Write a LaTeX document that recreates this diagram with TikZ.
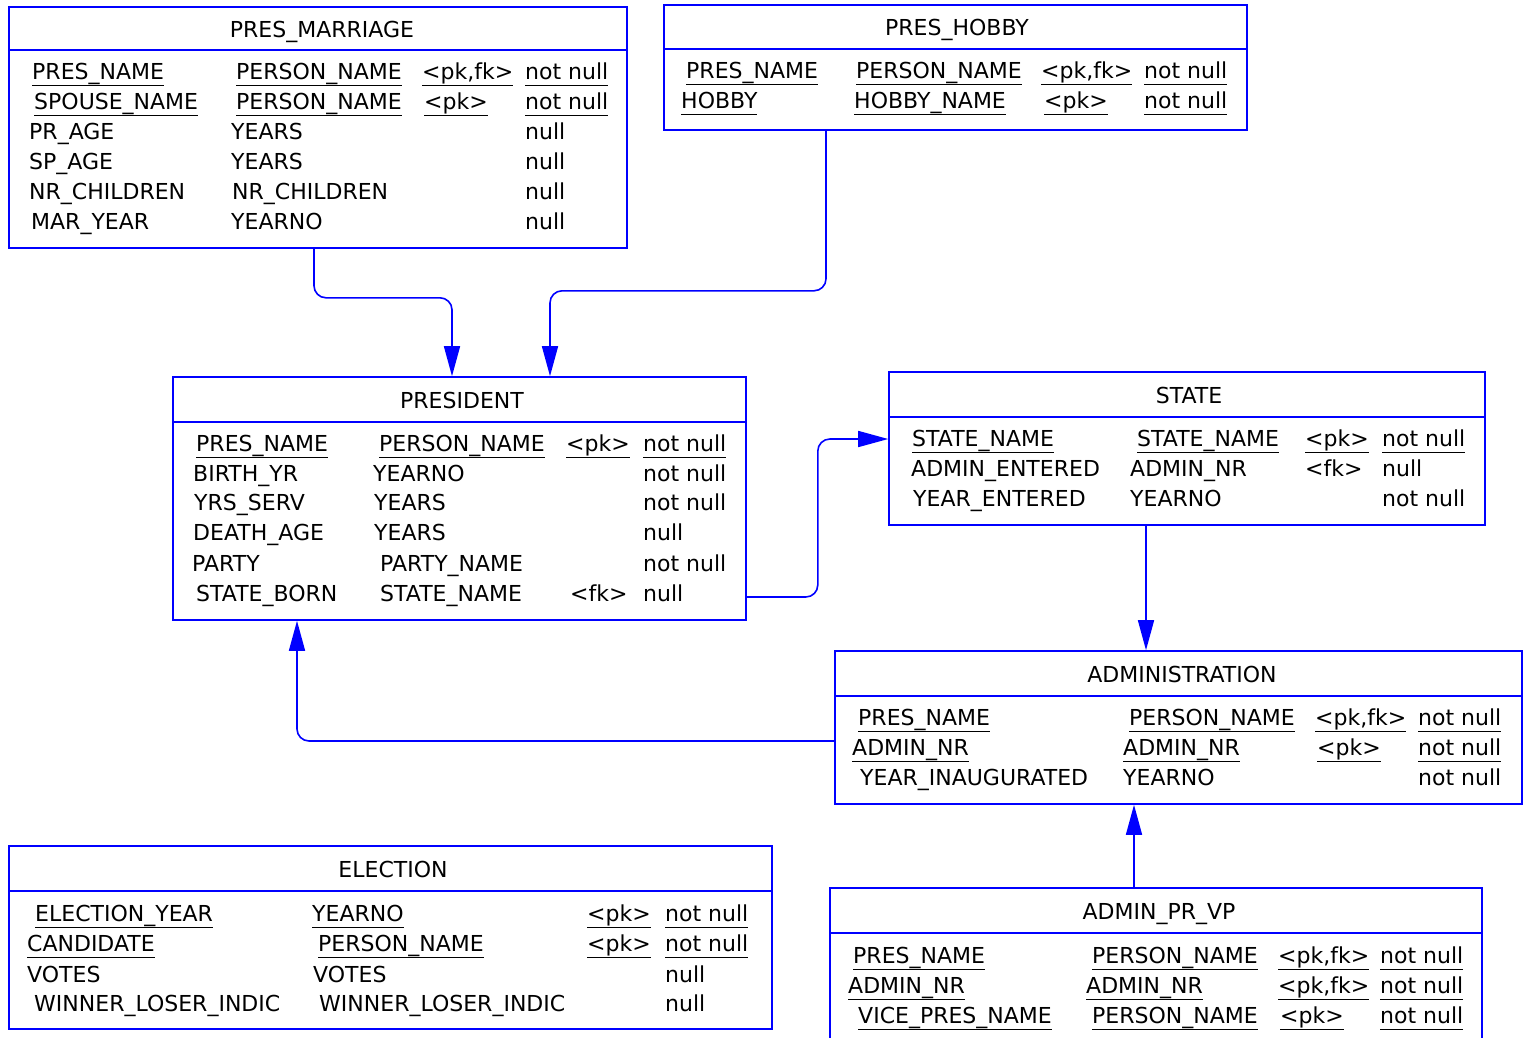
\documentclass[tikz,border=0pt]{standalone}
\usepackage{fontspec}
\setmainfont{DejaVu Sans}
\usetikzlibrary{arrows.meta}

% underlined key columns
\newcommand{\ukey}[1]{\setbox0\hbox{#1}\rlap{\rule[-7pt]{\wd0}{1.3pt}}\box0}

\begin{document}
\begin{tikzpicture}[
        x=1pt, y=-1pt,
        entity/.style={
            rectangle,
            draw=blue,
            line width=1.6pt,
            inner sep=0pt
        },
        divider/.style={draw=blue, line width=1.6pt},
        tabletitle/.style={
            anchor=base,
            inner sep=0pt,
            font=\fontsize{22}{26}\selectfont
        },
        field/.style={
            anchor=base west,
            inner sep=0pt,
            font=\fontsize{22}{26}\selectfont
        },
        fk/.style={
            draw=blue,
            line width=1.6pt,
            rounded corners=12pt,
            -{Triangle[length=30pt,width=16pt]}
        }
    ]
        \useasboundingbox (0,0) rectangle (1525,1037);

        % PRES_MARRIAGE
        \node[entity, minimum width=618, minimum height=241] (marriage) at (318,127.5) {};
        \draw[divider] ([yshift=-44pt]marriage.north west) -- ([yshift=-44pt]marriage.north east);
        \node[tabletitle] (marriage-title) at (322,37) {PRES\_MARRIAGE};
        \foreach \y/\xa/\a/\xb/\b/\xc/\c/\d [count=\i] in {
            79/32/\ukey{PRES\_NAME}/236/\ukey{PERSON\_NAME}/422/\ukey{<pk,fk>}/\ukey{not null},
            109/34/\ukey{SPOUSE\_NAME}/236/\ukey{PERSON\_NAME}/424/\ukey{<pk>}/\ukey{not null},
            139/29/PR\_AGE/231/YEARS/424//null,
            169/29/SP\_AGE/231/YEARS/424//null,
            199/29/NR\_CHILDREN/232/NR\_CHILDREN/424//null,
            229/31/MAR\_YEAR/231/YEARNO/424//null} {
            \node[field] (marriage-\i-name) at (\xa,\y) {\a};
            \node[field] (marriage-\i-type) at (\xb,\y) {\b};
            \node[field] (marriage-\i-key)  at (\xc,\y) {\c};
            \node[field] (marriage-\i-null) at (525,\y) {\d};
        }

        % PRES_HOBBY
        \node[entity, minimum width=583, minimum height=125] (hobby) at (955.5,67.5) {};
        \draw[divider] ([yshift=-45pt]hobby.north west) -- ([yshift=-45pt]hobby.north east);
        \node[tabletitle] (hobby-title) at (957,35) {PRES\_HOBBY};
        \foreach \y/\xa/\a/\xb/\b/\xc/\c/\d [count=\i] in {
            78/686/\ukey{PRES\_NAME}/856/\ukey{PERSON\_NAME}/1041/\ukey{<pk,fk>}/\ukey{not null},
            108/681/\ukey{HOBBY}/854/\ukey{HOBBY\_NAME}/1044/\ukey{<pk>}/\ukey{not null}} {
            \node[field] (hobby-\i-name) at (\xa,\y) {\a};
            \node[field] (hobby-\i-type) at (\xb,\y) {\b};
            \node[field] (hobby-\i-key)  at (\xc,\y) {\c};
            \node[field] (hobby-\i-null) at (1144,\y) {\d};
        }

        % PRESIDENT
        \node[entity, minimum width=573, minimum height=243] (president) at (459.5,498.5) {};
        \draw[divider] ([yshift=-46pt]president.north west) -- ([yshift=-46pt]president.north east);
        \node[tabletitle] (president-title) at (462,408) {PRESIDENT};
        \foreach \y/\xa/\a/\xb/\b/\xc/\c/\d [count=\i] in {
            451/196/\ukey{PRES\_NAME}/379/\ukey{PERSON\_NAME}/566/\ukey{<pk>}/\ukey{not null},
            481/193/BIRTH\_YR/373/YEARNO/566//not null,
            510/194/YRS\_SERV/374/YEARS/566//not null,
            540/193/DEATH\_AGE/374/YEARS/566//null,
            571/192/PARTY/380/PARTY\_NAME/566//not null,
            601/196/STATE\_BORN/380/STATE\_NAME/570/<fk>/null} {
            \node[field] (president-\i-name) at (\xa,\y) {\a};
            \node[field] (president-\i-type) at (\xb,\y) {\b};
            \node[field] (president-\i-key)  at (\xc,\y) {\c};
            \node[field] (president-\i-null) at (643,\y) {\d};
        }

        % STATE
        \node[entity, minimum width=596, minimum height=153] (state) at (1187,448.5) {};
        \draw[divider] ([yshift=-46pt]state.north west) -- ([yshift=-46pt]state.north east);
        \node[tabletitle] (state-title) at (1189,403) {STATE};
        \foreach \y/\xa/\a/\xb/\b/\xc/\c/\d [count=\i] in {
            446/912/\ukey{STATE\_NAME}/1137/\ukey{STATE\_NAME}/1305/\ukey{<pk>}/\ukey{not null},
            476/911/ADMIN\_ENTERED/1130/ADMIN\_NR/1305/<fk>/null,
            506/913/YEAR\_ENTERED/1130/YEARNO/1305//not null} {
            \node[field] (state-\i-name) at (\xa,\y) {\a};
            \node[field] (state-\i-type) at (\xb,\y) {\b};
            \node[field] (state-\i-key)  at (\xc,\y) {\c};
            \node[field] (state-\i-null) at (1382,\y) {\d};
        }

        % ADMINISTRATION
        \node[entity, minimum width=687, minimum height=153] (admin) at (1178.5,727.5) {};
        \draw[divider] ([yshift=-46pt]admin.north west) -- ([yshift=-46pt]admin.north east);
        \node[tabletitle] (admin-title) at (1182,682) {ADMINISTRATION};
        \foreach \y/\xa/\a/\xb/\b/\xc/\c/\d [count=\i] in {
            725/858/\ukey{PRES\_NAME}/1129/\ukey{PERSON\_NAME}/1315/\ukey{<pk,fk>}/\ukey{not null},
            755/852/\ukey{ADMIN\_NR}/1123/\ukey{ADMIN\_NR}/1317/\ukey{<pk>}/\ukey{not null},
            785/860/YEAR\_INAUGURATED/1123/YEARNO/1317//not null} {
            \node[field] (admin-\i-name) at (\xa,\y) {\a};
            \node[field] (admin-\i-type) at (\xb,\y) {\b};
            \node[field] (admin-\i-key)  at (\xc,\y) {\c};
            \node[field] (admin-\i-null) at (1418,\y) {\d};
        }

        % ELECTION
        \node[entity, minimum width=763, minimum height=183] (election) at (390.5,937.5) {};
        \draw[divider] ([yshift=-46pt]election.north west) -- ([yshift=-46pt]election.north east);
        \node[tabletitle] (election-title) at (393,877) {ELECTION};
        \foreach \y/\xa/\a/\xb/\b/\xc/\c/\d [count=\i] in {
            921/35/\ukey{ELECTION\_YEAR}/312/\ukey{YEARNO}/587/\ukey{<pk>}/\ukey{not null},
            951/27/\ukey{CANDIDATE}/318/\ukey{PERSON\_NAME}/587/\ukey{<pk>}/\ukey{not null},
            982/27/VOTES/313/VOTES/587//null,
            1011/34/WINNER\_LOSER\_INDIC/319/WINNER\_LOSER\_INDIC/587//null} {
            \node[field] (election-\i-name) at (\xa,\y) {\a};
            \node[field] (election-\i-type) at (\xb,\y) {\b};
            \node[field] (election-\i-key)  at (\xc,\y) {\c};
            \node[field] (election-\i-null) at (665,\y) {\d};
        }

        % ADMIN_PR_VP
        \node[entity, minimum width=652, minimum height=172] (vp) at (1156,974) {};
        \draw[divider] ([yshift=-46pt]vp.north west) -- ([yshift=-46pt]vp.north east);
        \node[tabletitle] (vp-title) at (1159,919) {ADMIN\_PR\_VP};
        \foreach \y/\xa/\a/\xb/\b/\xc/\c/\d [count=\i] in {
            963/853/\ukey{PRES\_NAME}/1092/\ukey{PERSON\_NAME}/1278/\ukey{<pk,fk>}/\ukey{not null},
            993/848/\ukey{ADMIN\_NR}/1086/\ukey{ADMIN\_NR}/1278/\ukey{<pk,fk>}/\ukey{not null},
            1023/858/\ukey{VICE\_PRES\_NAME}/1092/\ukey{PERSON\_NAME}/1280/\ukey{<pk>}/\ukey{not null}} {
            \node[field] (vp-\i-name) at (\xa,\y) {\a};
            \node[field] (vp-\i-type) at (\xb,\y) {\b};
            \node[field] (vp-\i-key)  at (\xc,\y) {\c};
            \node[field] (vp-\i-null) at (1380,\y) {\d};
        }

        % references
        \draw[fk] ([xshift=-4pt]marriage.south) -- ++(0,49) -| ([xshift=-7.5pt]president.north);
        \draw[fk] ([xshift=-129.5pt]hobby.south) -- ++(0,160) -| ([xshift=90.5pt]president.north);
        \draw[fk] ([yshift=-98.5pt]president.east) -- ++(71,0) |- ([yshift=9.5pt]state.west);
        \draw[fk] ([xshift=-41pt]state.south) -- ([xshift=-41pt]state.south |- admin.north);
        \draw[fk] ([yshift=-13.5pt]admin.west) -| ([xshift=-162.5pt]president.south);
        \draw[fk] ([xshift=-22pt]vp.north) -- ([xshift=-22pt]vp.north |- admin.south);
    \end{tikzpicture}
\end{document}
